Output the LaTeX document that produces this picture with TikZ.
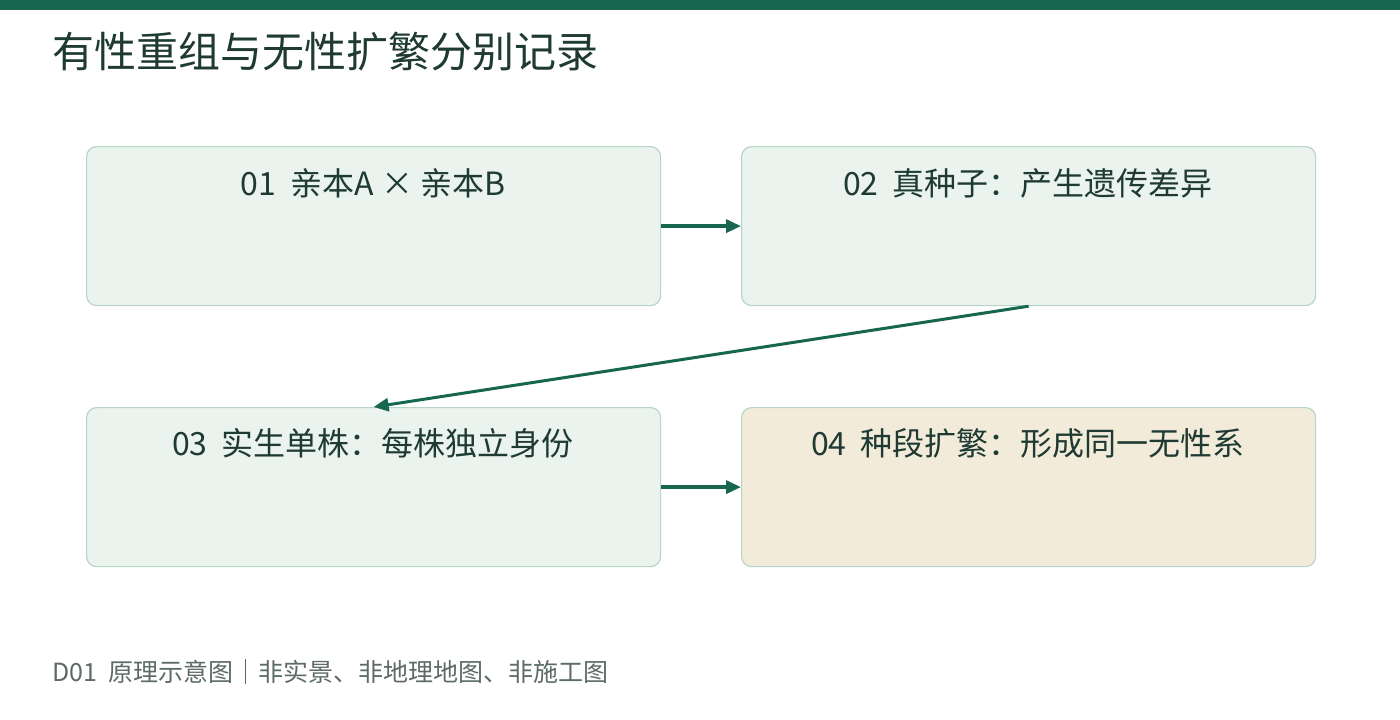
\documentclass[tikz,border=0pt]{standalone}
\usepackage{fontspec}
\setmainfont{Noto Sans CJK SC}
\usetikzlibrary{arrows.meta}
\definecolor{dg}{HTML}{17664F}
\definecolor{bf}{HTML}{EAF3EE}
\definecolor{bd}{HTML}{B8D4C7}
\definecolor{tf}{HTML}{F2EBDA}
\definecolor{tx}{HTML}{1E3A33}
\definecolor{ft}{HTML}{5C6B67}
\begin{document}
\begin{tikzpicture}[x=1pt,y=-1pt,
 box/.style={draw=bd,line width=1.2pt,fill=bf,rounded corners=10pt,minimum width=574pt,minimum height=159pt,anchor=north west},
 lab/.style={font=\fontsize{32}{36}\selectfont,text=tx,anchor=center},
 arr/.style={draw=dg,line width=3.5pt,-{Triangle[length=15pt,width=13pt]}}]
\useasboundingbox (0,0) rectangle (1400,720);
\fill[dg] (0,0) rectangle (1400,10);
\node[anchor=west,text=tx,font=\fontsize{42}{46}\selectfont,inner sep=0pt] (title) at (52,52) {有性重组与无性扩繁分别记录};
\node[box] (b1) at (86,146) {};
\node[box] (b2) at (741,146) {};
\node[box] (b3) at (86,407) {};
\node[box,fill=tf] (b4) at (741,407) {};
\node[lab] (t1) at (373,183) {01\ \ 亲本A × 亲本B};
\node[lab] (t2) at (1028,183) {02\ \ 真种子：产生遗传差异};
\node[lab] (t3) at (373,443) {03\ \ 实生单株：每株独立身份};
\node[lab] (t4) at (1028,443) {04\ \ 种段扩繁：形成同一无性系};
\draw[arr] (b1.east) -- (b2.west);
\draw[arr,line width=3pt] (b2.south) -- (b3.north);
\draw[arr] (b3.east) -- (b4.west);
\node[anchor=west,text=ft,font=\fontsize{25}{29}\selectfont,inner sep=0pt] (foot) at (52,672) {D01\ \ 原理示意图｜非实景、非地理地图、非施工图};
\end{tikzpicture}
\end{document}
